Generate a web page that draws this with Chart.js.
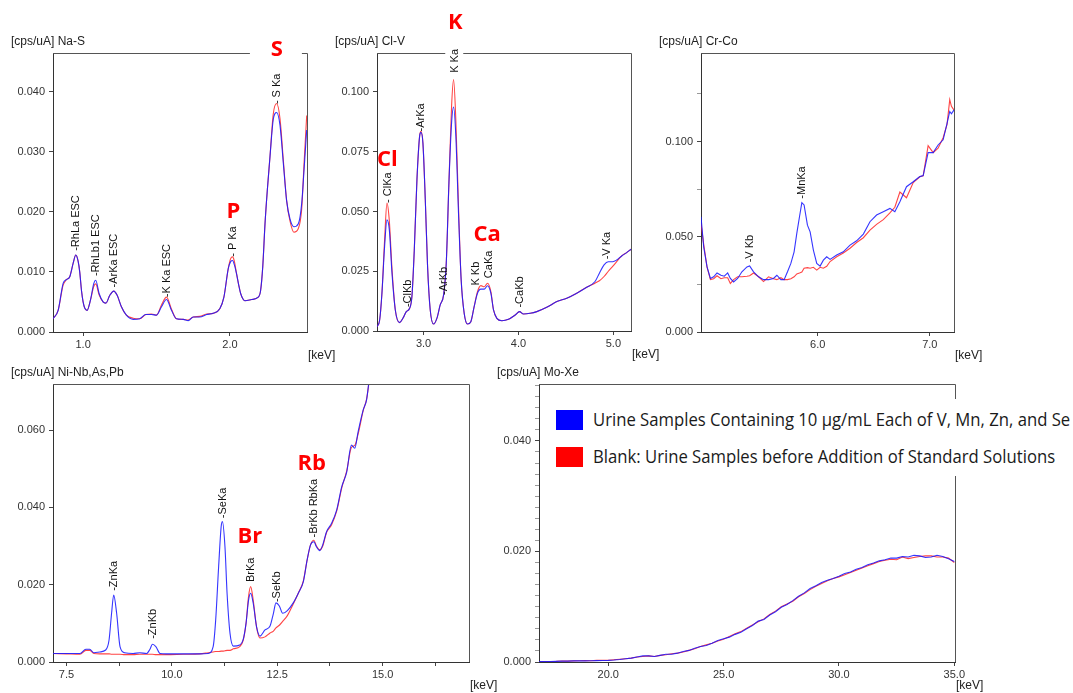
<!DOCTYPE html>
<html>
<head>
<meta charset="utf-8">
<script src="https://cdn.jsdelivr.net/npm/chart.js@4.4.1/dist/chart.umd.min.js"></script>
<style>
  body { margin: 0; background: #fff; }
  #wrap { position: relative; width: 1073px; height: 693px; overflow: hidden; background: #fff; }
  #wrap canvas { position: absolute; left: 0; top: 0; }
  #legend { position: absolute; left: 545px; top: 399px; width: 528px; height: 77px; background: #fff;
            font-family: "Open Sans", sans-serif; font-size: 19px; color: #1a1a1a; }
  #legend .row { position: absolute; left: 11px; height: 20px; white-space: nowrap; }
  #legend .sw { position: absolute; left: 0; top: 0; width: 27px; height: 20px; }
  #legend .tx { position: absolute; left: 37px; top: -4px; transform-origin: 0 50%; }
</style>
</head>
<body>
<div id="wrap"><div id="legend"></div></div>
<script>
// series names (legend)
const seriesNames = ['Urine Samples Containing 10 \u00b5g/mL Each of V, Mn, Zn, and Se',
                     'Blank: Urine Samples before Addition of Standard Solutions'];

// ---- Na-S ----
const naSTitle = '[cps/uA] Na-S';
const naSE = [0.795,0.83,0.864,0.886,0.909,0.932,0.95,0.966,0.977,0.989,1.0,1.011,1.027,1.05,1.073,1.086,1.109,1.136,1.155,1.182,1.209,1.232,1.261,1.295,1.341,1.386,1.427,1.466,1.5,1.534,1.568,1.602,1.636,1.682,1.716,1.75,1.795,1.841,1.886,1.932,1.959,1.989,2.005,2.018,2.03,2.045,2.06,2.073,2.102,2.148,2.193,2.209,2.224,2.239,2.256,2.273,2.295,2.318,2.341,2.364,2.386,2.409,2.436,2.466,2.489,2.505,2.523];
const naSBlue = [0.0022,0.0036,0.0081,0.0087,0.0092,0.0114,0.0128,0.0118,0.0100,0.0069,0.0050,0.0040,0.0036,0.0053,0.0081,0.0086,0.0064,0.0050,0.0048,0.0061,0.0068,0.0061,0.0042,0.0028,0.0021,0.0022,0.0029,0.0029,0.0028,0.0042,0.0054,0.0036,0.0022,0.0021,0.0019,0.0025,0.0025,0.0029,0.0031,0.0039,0.0058,0.0106,0.0117,0.0119,0.0112,0.0097,0.0078,0.0064,0.0052,0.0054,0.0058,0.0069,0.0110,0.0180,0.0240,0.0292,0.0353,0.0365,0.0344,0.0280,0.0219,0.0188,0.0175,0.0180,0.0214,0.0270,0.0336];
const naSRed = [0.0022,0.0036,0.0078,0.0087,0.0092,0.0114,0.0128,0.0118,0.0100,0.0069,0.0050,0.0040,0.0036,0.0053,0.0076,0.0080,0.0062,0.0050,0.0048,0.0061,0.0068,0.0061,0.0042,0.0028,0.0023,0.0022,0.0029,0.0030,0.0028,0.0045,0.0058,0.0038,0.0022,0.0021,0.0020,0.0025,0.0026,0.0030,0.0031,0.0039,0.0058,0.0106,0.0122,0.0125,0.0118,0.0097,0.0078,0.0064,0.0052,0.0054,0.0058,0.0069,0.0110,0.0180,0.0240,0.0292,0.0362,0.0380,0.0355,0.0285,0.0219,0.0185,0.0166,0.0172,0.0205,0.0280,0.0360];
const naSXTicks = [1.0, 2.0];
const naSYTicks = [0, 0.01, 0.02, 0.03, 0.04];
const naSPeaks = [['-RhLa ESC',0.95,0.0135],['-RhLb1 ESC',1.086,0.0093],['-ArKa ESC',1.209,0.0074],['-K Ka ESC',1.568,0.0058],['- P Ka',2.02,0.0125],['- S Ka',2.318,0.0379]];
const naSElems = [['S',2.32,0.0473],['P',2.023,0.0203]];

// ---- Cl-V ----
const clVTitle = '[cps/uA] Cl-V';
const clVE = [2.509,2.537,2.561,2.589,2.614,2.639,2.667,2.702,2.747,2.782,2.818,2.853,2.877,2.902,2.93,2.958,2.972,2.993,3.018,3.042,3.07,3.105,3.14,3.175,3.211,3.239,3.267,3.295,3.316,3.34,3.368,3.396,3.428,3.463,3.498,3.533,3.568,3.604,3.639,3.674,3.709,3.737,3.772,3.825,3.895,3.965,4.011,4.053,4.123,4.193,4.298,4.404,4.509,4.614,4.719,4.807,4.853,4.902,4.947,4.993,5.035,5.088,5.14,5.186];
const clVBlue = [0.0018,0.0046,0.0158,0.0353,0.0465,0.0423,0.0242,0.0088,0.0035,0.0053,0.0081,0.0095,0.0144,0.0339,0.0633,0.0814,0.0831,0.0786,0.0549,0.0270,0.0088,0.0029,0.0053,0.0109,0.0151,0.0284,0.0619,0.0870,0.0937,0.0814,0.0493,0.0214,0.0074,0.0029,0.0039,0.0102,0.0158,0.0175,0.0175,0.0189,0.0158,0.0088,0.0053,0.0043,0.0049,0.0067,0.0081,0.0071,0.0074,0.0081,0.0099,0.0123,0.0137,0.0158,0.0183,0.0207,0.0242,0.0277,0.0290,0.0290,0.0297,0.0314,0.0328,0.0342];
const clVRed = [0.0018,0.0046,0.0158,0.0380,0.0535,0.0460,0.0260,0.0088,0.0035,0.0053,0.0081,0.0095,0.0144,0.0339,0.0633,0.0814,0.0835,0.0786,0.0549,0.0270,0.0088,0.0029,0.0053,0.0109,0.0151,0.0284,0.0619,0.0940,0.1052,0.0880,0.0520,0.0214,0.0074,0.0029,0.0039,0.0102,0.0165,0.0190,0.0185,0.0200,0.0165,0.0088,0.0053,0.0043,0.0049,0.0067,0.0081,0.0071,0.0074,0.0081,0.0099,0.0123,0.0137,0.0158,0.0183,0.0200,0.0210,0.0228,0.0250,0.0270,0.0290,0.0314,0.0328,0.0342];
const clVXTicks = [3.0, 4.0, 5.0];
const clVYTicks = [0, 0.025, 0.05, 0.075, 0.1];
const clVPeaks = [['- ClKa',2.621,0.0536],['-ClKb',2.832,0.0100],['-ArKa',2.965,0.0835],['-ArKb',3.21,0.0151],['K Ka',3.323,0.108,true],['K Kb',3.551,0.0190],['CaKa',3.684,0.0221],['-CaKb',4.011,0.0098],['-V Ka',4.93,0.0300]];
const clVElems = [['K',3.333,0.1295],['Cl',2.617,0.0725],['Ca',3.67,0.041]];

// ---- Cr-Co ----
const crCoTitle = '[cps/uA] Cr-Co';
const crCoE = [4.958,4.982,5.012,5.042,5.071,5.101,5.136,5.166,5.196,5.22,5.249,5.285,5.323,5.368,5.392,5.427,5.472,5.516,5.561,5.605,5.635,5.671,5.7,5.73,5.76,5.789,5.813,5.837,5.858,5.878,5.908,5.932,5.961,5.991,6.021,6.05,6.08,6.11,6.169,6.228,6.288,6.347,6.407,6.466,6.525,6.585,6.644,6.688,6.733,6.792,6.852,6.911,6.941,6.985,7.03,7.074,7.119,7.154,7.178,7.193,7.217];
const crCoBlue = [0.0605,0.0447,0.0342,0.0281,0.0290,0.0310,0.0298,0.0293,0.0310,0.0281,0.0263,0.0281,0.0316,0.0342,0.0347,0.0316,0.0290,0.0275,0.0275,0.0281,0.0298,0.0275,0.0275,0.0316,0.0360,0.0421,0.0518,0.0605,0.0679,0.0667,0.0561,0.0526,0.0430,0.0360,0.0346,0.0377,0.0395,0.0381,0.0404,0.0421,0.0456,0.0479,0.0514,0.0579,0.0614,0.0632,0.0649,0.0632,0.0684,0.0763,0.0789,0.0816,0.0821,0.0942,0.0942,0.0982,0.1009,0.1096,0.1158,0.1146,0.1167];
const crCoRed = [0.0570,0.0460,0.0340,0.0275,0.0280,0.0295,0.0280,0.0285,0.0285,0.0255,0.0275,0.0290,0.0290,0.0293,0.0295,0.0310,0.0290,0.0265,0.0290,0.0280,0.0275,0.0285,0.0275,0.0275,0.0280,0.0290,0.0305,0.0310,0.0315,0.0335,0.0338,0.0335,0.0340,0.0325,0.0340,0.0335,0.0345,0.0370,0.0395,0.0415,0.0440,0.0470,0.0495,0.0535,0.0565,0.0590,0.0625,0.0655,0.0735,0.0705,0.0785,0.0815,0.0820,0.0978,0.0942,0.0965,0.1020,0.1090,0.1220,0.1185,0.1165];
const crCoXTicks = [6.0, 7.0];
const crCoYTicks = [0, 0.05, 0.1];
const crCoYMinor = [0.025, 0.075, 0.125];
const crCoPeaks = [['-V Kb',5.389,0.0366],['-MnKa',5.858,0.0700]];

// ---- Ni-Nb,As,Pb ----
const niTitle = '[cps/uA] Ni-Nb,As,Pb';
const niE = [7.18,7.5,7.82,7.96,8.05,8.15,8.29,8.43,8.51,8.57,8.62,8.69,8.77,8.88,9.08,9.24,9.4,9.48,9.54,9.62,9.72,9.87,10.27,10.66,10.86,10.98,11.04,11.11,11.17,11.2,11.26,11.31,11.38,11.46,11.61,11.69,11.76,11.82,11.87,11.93,12.01,12.09,12.21,12.33,12.41,12.47,12.55,12.63,12.74,12.88,13.0,13.12,13.21,13.29,13.37,13.43,13.51,13.58,13.67,13.79,13.91,14.03,14.15,14.26,14.34,14.42,14.54,14.62,14.68,14.74];
const niBlue = [0.0022,0.0022,0.0022,0.0033,0.0033,0.0024,0.0026,0.0031,0.0057,0.0126,0.0173,0.0126,0.0040,0.0024,0.0022,0.0024,0.0022,0.0033,0.0046,0.0040,0.0022,0.0021,0.0021,0.0021,0.0022,0.0040,0.0109,0.0247,0.0350,0.0363,0.0298,0.0178,0.0074,0.0041,0.0044,0.0057,0.0100,0.0160,0.0178,0.0152,0.0091,0.0067,0.0083,0.0093,0.0126,0.0153,0.0145,0.0126,0.0133,0.0153,0.0178,0.0208,0.0264,0.0303,0.0311,0.0298,0.0288,0.0303,0.0337,0.0359,0.0393,0.0453,0.0492,0.0561,0.0553,0.0596,0.0652,0.0678,0.0729,0.0780];
const niRed = [0.0022,0.0021,0.0020,0.0030,0.0030,0.0022,0.0021,0.0021,0.0021,0.0020,0.0020,0.0020,0.0020,0.0019,0.0019,0.0020,0.0020,0.0020,0.0020,0.0019,0.0019,0.0019,0.0020,0.0021,0.0024,0.0026,0.0027,0.0027,0.0028,0.0028,0.0029,0.0030,0.0030,0.0034,0.0040,0.0055,0.0100,0.0170,0.0195,0.0160,0.0090,0.0062,0.0065,0.0075,0.0080,0.0088,0.0095,0.0105,0.0120,0.0150,0.0178,0.0210,0.0264,0.0303,0.0315,0.0300,0.0290,0.0300,0.0335,0.0355,0.0390,0.0450,0.0495,0.0555,0.0560,0.0590,0.0650,0.0680,0.0725,0.0780];
const niXTicks = [7.5, 10.0, 12.5, 15.0];
const niXMinor = [8.75, 11.25, 13.75, 16.25];
const niYTicks = [0, 0.02, 0.04, 0.06];
const niPeaks = [['-ZnKa',8.62,0.0184],['-ZnKb',9.53,0.0060],['-SeKa',11.2,0.0372],['BrKa',11.87,0.0207],['-SeKb',12.48,0.0155],['-BrKb RbKa',13.35,0.0322]];
const niElems = [['Br',11.85,0.0329],['Rb',13.32,0.0517]];

// ---- Mo-Xe ----
const moTitle = '[cps/uA] Mo-Xe';
const moE = [17.0,17.25,17.5,17.75,18.0,18.25,18.5,18.75,19.0,19.25,19.5,19.75,20.0,20.25,20.5,20.75,21.0,21.25,21.5,21.75,22.0,22.25,22.5,22.75,23.0,23.25,23.5,23.75,24.0,24.25,24.5,24.75,25.0,25.25,25.5,25.75,26.0,26.25,26.5,26.75,27.0,27.25,27.5,27.75,28.0,28.25,28.5,28.75,29.0,29.25,29.5,29.75,30.0,30.25,30.5,30.75,31.0,31.25,31.5,31.75,32.0,32.25,32.5,32.75,33.0,33.25,33.5,33.75,34.0,34.25,34.5,34.75,35.0];
const moBlue = [0.0001,0.0001,0.0001,0.00012,0.00015,0.00015,0.0002,0.0002,0.0002,0.00022,0.00025,0.00028,0.0003,0.00035,0.00045,0.0006,0.0007,0.0009,0.0011,0.0011,0.0010,0.0012,0.0014,0.0014,0.0016,0.0019,0.0021,0.0025,0.0028,0.0030,0.0034,0.0039,0.0042,0.0045,0.0050,0.0054,0.0060,0.0066,0.0074,0.0077,0.0085,0.0091,0.0099,0.0104,0.0111,0.0119,0.0125,0.0133,0.0138,0.0144,0.0148,0.0151,0.0155,0.0160,0.0163,0.0168,0.0171,0.0176,0.0179,0.0183,0.0185,0.0188,0.0188,0.0191,0.0190,0.0193,0.0192,0.0189,0.0190,0.0193,0.0191,0.0187,0.0182];
const moRed = [0.0001,0.0001,0.0001,0.00012,0.00018,0.00015,0.0002,0.00022,0.00025,0.00022,0.0003,0.0003,0.0003,0.0004,0.0005,0.0006,0.0007,0.0009,0.0010,0.0011,0.0010,0.0012,0.0013,0.0015,0.0016,0.0018,0.0021,0.0024,0.0028,0.0031,0.0034,0.0038,0.0041,0.0046,0.0051,0.0055,0.0061,0.0067,0.0073,0.0078,0.0086,0.0092,0.0100,0.0105,0.0110,0.0118,0.0124,0.0131,0.0137,0.0142,0.0147,0.0151,0.0154,0.0158,0.0162,0.0166,0.0170,0.0174,0.0178,0.0182,0.0184,0.0186,0.0185,0.0190,0.0187,0.0189,0.0191,0.0192,0.0192,0.0190,0.0190,0.0188,0.0180];
const moXTicks = [20.0, 25.0, 30.0, 35.0];
const moYTicks = [0, 0.02, 0.04];
const moYMinor = [0.002,0.004,0.006,0.008,0.010,0.012,0.014,0.016,0.018,0.022,0.024,0.026,0.028,0.030,0.032,0.034,0.036,0.038,0.042,0.044,0.046,0.048,0.050];

// layout of the five panels (pixel areas of the plot boxes)
const panels = [
  { title: naSTitle, e: naSE, blue: naSBlue, red: naSRed, xr: [0.795, 2.525], yr: [0, 0.0464], xt: naSXTicks, xm: [], yt: naSYTicks, ym: [], peaks: naSPeaks, elems: naSElems, area: [53, 53, 307, 332], smooth: true, box: { S: [-27, -20, 52, 28] } },
  { title: clVTitle, e: clVE, blue: clVBlue, red: clVRed, xr: [2.509, 5.186], yr: [0, 0.1163], xt: clVXTicks, xm: [], yt: clVYTicks, ym: [], peaks: clVPeaks, elems: clVElems, area: [377, 53, 631, 331], smooth: true, box: {} },
  { title: crCoTitle, e: crCoE, blue: crCoBlue, red: crCoRed, xr: [4.958, 7.216], yr: [0, 0.1465], xt: crCoXTicks, xm: [], yt: crCoYTicks, ym: crCoYMinor, peaks: crCoPeaks, elems: [], area: [701, 53, 954, 332], smooth: false, box: {} },
  { title: niTitle, e: niE, blue: niBlue, red: niRed, xr: [7.18, 17.05], yr: [0, 0.0719], xt: niXTicks, xm: niXMinor, yt: niYTicks, ym: [], peaks: niPeaks, elems: niElems, area: [53, 384, 469, 662], smooth: true, box: {} },
  { title: moTitle, e: moE, blue: moBlue, red: moRed, xr: [17.0, 35.03], yr: [0, 0.0503], xt: moXTicks, xm: [], yt: moYTicks, ym: moYMinor, peaks: [], elems: [], area: [539, 384, 955, 662], smooth: false, box: {} }
];

const W = 1073, H = 693, YAXW = 45, XAXH = 20;
const BLUE = 'rgba(25,25,255,0.88)', RED = 'rgba(255,35,35,0.85)';
const tickFont = { family: 'Liberation Sans', size: 11 };
const wrap = document.getElementById('wrap');

function decoPlugin(p) {
  return {
    id: 'deco',
    afterDraw(chart) {
      const ctx = chart.ctx, a = chart.chartArea, xs = chart.scales.x, ys = chart.scales.y;
      ctx.save();
      // top + right frame
      ctx.strokeStyle = '#555';
      ctx.lineWidth = 1;
      ctx.beginPath();
      ctx.moveTo(a.left, Math.round(a.top) + 0.5);
      ctx.lineTo(Math.round(a.right) + 0.5, Math.round(a.top) + 0.5);
      ctx.lineTo(Math.round(a.right) + 0.5, a.bottom);
      ctx.stroke();

      // white boxes behind red element labels
      p.elems.forEach(([t, e, v]) => {
        const b = p.box[t];
        if (!b) return;
        const cx = xs.getPixelForValue(e), cy = ys.getPixelForValue(v);
        ctx.fillStyle = '#fff';
        ctx.fillRect(cx + b[0], cy + b[1], b[2], b[3]);
      });

      // rotated peak labels
      ctx.font = '11px "Liberation Sans"';
      ctx.textAlign = 'left';
      ctx.textBaseline = 'middle';
      p.peaks.forEach(([t, e, v, bg]) => {
        const x = xs.getPixelForValue(e), y = ys.getPixelForValue(v);
        ctx.save();
        ctx.translate(x, y);
        ctx.rotate(-Math.PI / 2);
        if (bg) {
          const w = ctx.measureText(t).width;
          ctx.fillStyle = '#fff';
          ctx.fillRect(-1, -9, w + 4, 18);
        }
        ctx.fillStyle = '#111';
        ctx.fillText(t, 0, 0.5);
        ctx.restore();
      });

      // red element labels
      ctx.font = 'bold 22px "Open Sans"';
      ctx.textAlign = 'center';
      ctx.textBaseline = 'alphabetic';
      ctx.fillStyle = '#ff0000';
      p.elems.forEach(([t, e, v]) => {
        ctx.fillText(t, xs.getPixelForValue(e), ys.getPixelForValue(v) + 8);
      });

      // axis titles
      ctx.fillStyle = '#222';
      ctx.font = '12px "Liberation Sans"';
      ctx.textAlign = 'left';
      ctx.textBaseline = 'middle';
      ctx.fillText(p.title, a.left - 42, a.top - 11);
      ctx.fillText('[keV]', a.right + 1, a.bottom + 24);
      ctx.restore();
    }
  };
}

panels.forEach(p => {
  const cv = document.createElement('canvas');
  cv.width = W; cv.height = H;
  wrap.insertBefore(cv, document.getElementById('legend'));
  const [L, T, R, B] = p.area;
  const mk = arr => p.e.map((x, i) => ({ x: x, y: arr[i] }));
  const interp = p.smooth ? 'monotone' : 'default';
  new Chart(cv, {
    type: 'line',
    data: {
      datasets: [
        { label: seriesNames[0], data: mk(p.blue), borderColor: BLUE, borderWidth: 1.1, pointRadius: 0, tension: 0, cubicInterpolationMode: interp },
        { label: seriesNames[1], data: mk(p.red), borderColor: RED, borderWidth: 1.1, pointRadius: 0, tension: 0, cubicInterpolationMode: interp }
      ]
    },
    options: {
      responsive: false,
      animation: false,
      devicePixelRatio: 1,
      events: [],
      layout: { padding: { left: L - YAXW, top: T, right: W - R, bottom: H - B - XAXH } },
      plugins: { legend: { display: false }, tooltip: { enabled: false } },
      scales: {
        x: {
          type: 'linear', min: p.xr[0], max: p.xr[1],
          afterFit: s => { s.height = XAXH; },
          afterBuildTicks: s => { s.ticks = p.xt.concat(p.xm).sort((m, n) => m - n).map(v => ({ value: v })); },
          ticks: { autoSkip: false, maxRotation: 0, padding: 2, font: tickFont, color: '#333',
                   callback: v => p.xt.includes(v) ? v.toFixed(1) : '' },
          grid: { drawOnChartArea: false, tickLength: 4, color: '#444' },
          border: { color: '#333' }
        },
        y: {
          type: 'linear', min: p.yr[0], max: p.yr[1],
          afterFit: s => { s.width = YAXW; },
          afterBuildTicks: s => { s.ticks = p.yt.concat(p.ym).sort((m, n) => m - n).map(v => ({ value: v })); },
          ticks: { autoSkip: false, padding: 4, font: tickFont, color: '#333',
                   callback: v => p.yt.includes(v) ? v.toFixed(3) : '' },
          grid: { drawOnChartArea: false, tickLength: 4,
                  color: c => (c.tick && p.yt.includes(c.tick.value)) ? '#444' : '#999' },
          border: { color: '#333' }
        }
      }
    },
    plugins: [decoPlugin(p)]
  });
});

// legend overlay on the Mo-Xe panel
const legend = document.getElementById('legend');
['#0000ff', '#ff0000'].forEach((col, i) => {
  const row = document.createElement('div');
  row.className = 'row';
  row.style.top = (11 + i * 37) + 'px';
  const sw = document.createElement('span');
  sw.className = 'sw';
  sw.style.background = col;
  const tx = document.createElement('span');
  tx.className = 'tx';
  tx.textContent = seriesNames[i];
  row.appendChild(sw); row.appendChild(tx);
  legend.appendChild(row);
});
// squeeze the legend text to the width used in the figure
const first = legend.querySelector('.tx');
const k = 477 / first.getBoundingClientRect().width;
legend.querySelectorAll('.tx').forEach(t => { t.style.transform = 'scaleX(' + k.toFixed(3) + ')'; });
</script>
</body>
</html>
